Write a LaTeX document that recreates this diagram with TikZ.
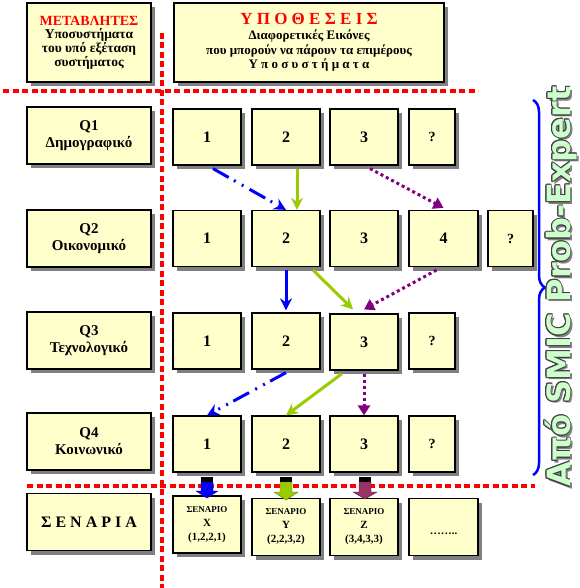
\documentclass[tikz,border=0pt]{standalone}
\usepackage{fontspec}
\setmainfont{Liberation Serif}
\newfontfamily\smicfont{DejaVu Sans}
\usetikzlibrary{arrows.meta,shadows,decorations.pathreplacing}
\definecolor{boxyellow}{RGB}{255,255,204}
\definecolor{arrowgreen}{RGB}{153,204,0}
\definecolor{arrowpurple}{RGB}{128,0,128}
\definecolor{blockpurple}{RGB}{153,51,102}
\definecolor{mint}{RGB}{204,255,204}

\begin{document}
\begin{tikzpicture}[x=1pt,y=-1pt,
  box/.style={draw, line width=1.2pt, fill=boxyellow, align=center, inner sep=0pt,
    drop shadow={shadow xshift=4pt, shadow yshift=-4pt, fill=black!50, opacity=1}},
  var/.style={box, minimum width=124pt, minimum height=57pt, font=\bfseries\fontsize{15}{17}\selectfont},
  hyp/.style={box, minimum width=68pt, minimum height=56pt, font=\bfseries\fontsize{16}{18}\selectfont},
  scen/.style={box, minimum width=68pt, minimum height=57pt, font=\bfseries\fontsize{11}{14}\selectfont},
  sepline/.style={red, line width=4.5pt, dash pattern=on 6pt off 3.5pt},
  flow/.style={line width=3pt, -{Stealth[length=12pt,width=12pt]}},
  dashdot/.style={flow, blue, dash pattern=on 18pt off 6pt on 2pt off 7pt on 2pt off 7pt},
  dotflow/.style={line width=3pt, arrowpurple, dash pattern=on 3pt off 3pt, -{Triangle[length=10pt,width=12pt]}},
  smic/.style={rotate=90, anchor=base, font=\smicfont\bfseries\fontsize{32}{32}\selectfont}]
\useasboundingbox (0,0) rectangle (579,588);

\node[box, minimum width=124pt, minimum height=79pt, font=\bfseries\fontsize{13.5}{12.5}\selectfont] (vars) at (89,42.5)
  {\textcolor{red}{\fontsize{14}{16}\selectfont ΜΕΤΑΒΛΗΤΕΣ}\\[1pt] Υποσυστήματα\\ του υπό εξέταση\\ συστήματος};
\node[box, minimum width=270pt, minimum height=79pt, font=\bfseries\fontsize{13}{14.5}\selectfont] (hyps) at (309,42.5)
  {\textcolor{red}{\fontsize{17}{18}\selectfont Υ Π Ο Θ Ε Σ Ε Ι Σ}\\[1pt] Διαφορετικές Εικόνες\\ που μπορούν να πάρουν τα επιμέρους\\ Υ π ο σ υ σ τ ή μ α τ α};

\node[var] (q1) at (89,135.5) {Q1\\Δημογραφικό};
\node[var] (q2) at (89,238.5) {Q2\\Οικονομικό};
\node[var] (q3) at (89,340.5) {Q3\\Τεχνολογικό};
\node[var] (q4) at (89,441.5) {Q4\\Κοινωνικό};
\node[var, font=\bfseries\fontsize{16}{18}\selectfont] (sen) at (89,522) {Σ Ε Ν Α Ρ Ι Α};

\node[hyp] (q1a) at (207,137) {1};
\node[hyp] (q1b) at (286,137) {2};
\node[hyp] (q1c) at (364,137) {3};
\node[hyp, minimum width=46pt, font=\bfseries\fontsize{14}{16}\selectfont] (q1d) at (432,137) {?};

\node[hyp] (q2a) at (207,238.5) {1};
\node[hyp] (q2b) at (286,238.5) {2};
\node[hyp] (q2c) at (364,238.5) {3};
\node[hyp, minimum width=69pt] (q2d) at (443.5,238.5) {4};
\node[hyp, minimum width=45pt, font=\bfseries\fontsize{14}{16}\selectfont] (q2e) at (510.5,238.5) {?};

\node[hyp] (q3a) at (207,341) {1};
\node[hyp] (q3b) at (286,341) {2};
\node[hyp] (q3c) at (364,342) {3};
\node[hyp, minimum width=46pt, font=\bfseries\fontsize{14}{16}\selectfont] (q3d) at (432,341) {?};

\node[hyp] (q4a) at (207,444) {1};
\node[hyp] (q4b) at (286,444) {2};
\node[hyp] (q4c) at (364,444) {3};
\node[hyp, minimum width=46pt, font=\bfseries\fontsize{14}{16}\selectfont] (q4d) at (432,444) {?};

\node[scen] (sx) at (207,524.5) {{\fontsize{9}{14}\selectfont ΣΕΝΑΡΙΟ}\\X\\(1,2,2,1)};
\node[scen] (sy) at (286,527) {{\fontsize{9}{14}\selectfont ΣΕΝΑΡΙΟ}\\Y\\(2,2,3,2)};
\node[scen] (sz) at (364,527) {{\fontsize{9}{14}\selectfont ΣΕΝΑΡΙΟ}\\Z\\(3,4,3,3)};
\node[scen, minimum width=69pt] (sdots) at (443.5,527) {\\[2pt]……..};

\draw[sepline] (3,91) -- (478,91);
\draw[sepline] (162,33) -- (162,588);
\draw[sepline] (27,486) -- (535,486);

\draw[dashdot] ([xshift=6pt,yshift=-3pt]q1a.south) -- (q2b.north);
\draw[flow, arrowgreen] ([xshift=11pt,yshift=-3pt]q1b.south) -- ([xshift=11pt]q2b.north);
\draw[dotflow] ([xshift=6pt,yshift=-3pt]q1c.south) -- ([yshift=2pt]q2d.north);

\draw[flow, blue] ([yshift=-3pt]q2b.south) -- ([yshift=2pt]q3b.north);
\draw[flow, arrowgreen] ([xshift=27pt,yshift=-3pt]q2b.south) -- ([xshift=-11pt,yshift=4pt]q3c.north);
\draw[dotflow] ([xshift=-7pt,yshift=-3pt]q2d.south) -- ([yshift=4pt]q3c.north);

\draw[dashdot] ([yshift=-3pt]q3b.south) -- (q4a.north);
\draw[flow, arrowgreen] ([xshift=-22pt,yshift=-3pt]q3c.south) -- (q4b.north);
\draw[dotflow] ([yshift=-3pt]q3c.south) -- (q4c.north);

\fill (201,477) rectangle (213,482);
\filldraw[fill=blue, draw=blue!60!black, thin] (201,482) -- ++(12,0) -- ++(0,9) -- ++(5,0) -- ++(-11,7) -- ++(-11,-7) -- ++(5,0) -- cycle;
\fill (280,477) rectangle (292,482);
\filldraw[fill=arrowgreen, draw=arrowgreen!60!black, thin] (280,482) -- ++(12,0) -- ++(0,10) -- ++(6,0) -- ++(-12,8) -- ++(-12,-8) -- ++(6,0) -- cycle;
\fill (359,477) rectangle (371,482);
\filldraw[fill=blockpurple, draw=blockpurple!60!black, thin] (359,482) -- ++(12,0) -- ++(0,10) -- ++(6,0) -- ++(-12,7) -- ++(-12,-7) -- ++(6,0) -- cycle;

\draw[blue, line width=2.5pt, decorate, decoration={brace, amplitude=12pt}] (533,100) -- (533,475);

\node[smic, text=black!50] at (572.5,289) {Από SMIC Prob-Expert};
\foreach \a in {0,30,...,330}
  \node[smic, text=black!75, shift={(\a:0.9)}] at (570,286.5) {Από SMIC Prob-Expert};
\node[smic, text=mint] (smictext) at (570,286.5) {Από SMIC Prob-Expert};
\end{tikzpicture}
\end{document}
